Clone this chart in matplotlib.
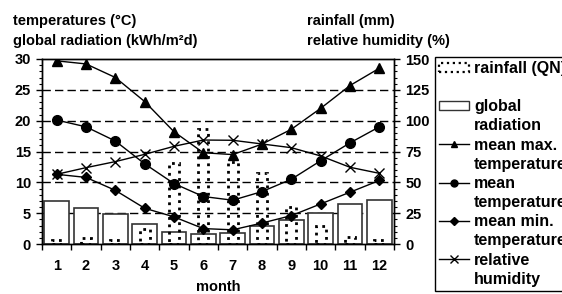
import matplotlib.pyplot as plt
from matplotlib.lines import Line2D
from matplotlib.patches import Rectangle

plt.rcParams['font.family'] = 'Liberation Sans'
plt.rcParams['font.weight'] = 'bold'
plt.rcParams['axes.labelweight'] = 'bold'
plt.rcParams['font.size'] = 10.5

months = [1, 2, 3, 4, 5, 6, 7, 8, 9, 10, 11, 12]
rainfall = [3.2, 4.6, 3.2, 12.2, 65.4, 93.0, 66.8, 57.3, 30.3, 14.9, 5.9, 3.2]
radiation = [6.9, 5.8, 4.8, 3.2, 1.95, 1.6, 1.85, 2.9, 3.85, 5.0, 6.5, 7.1]
tmax = [29.7, 29.2, 27.0, 23.1, 18.2, 14.8, 14.5, 16.2, 18.6, 22.0, 25.7, 28.5]
tmean = [20.1, 19.0, 16.7, 13.0, 9.8, 7.7, 7.1, 8.5, 10.5, 13.5, 16.4, 19.0]
tmin = [11.3, 10.8, 8.7, 5.8, 4.4, 2.5, 2.3, 3.4, 4.6, 6.5, 8.4, 10.3]
humidity = [56.5, 61.9, 66.8, 72.7, 79.2, 84.3, 84.1, 81.1, 78.1, 71.4, 62.2, 57.3]

fig = plt.figure(figsize=(5.62, 2.94), dpi=100)
ax = fig.add_axes([42 / 562, 1 - 244 / 294, 352 / 562, 185 / 294])
ax2 = ax.twinx()

# primary axis: radiation bars + temperatures
ax.set_axisbelow(True)
ax.bar(months, radiation, width=0.83, color='white', edgecolor='#333333', linewidth=1.2, zorder=2)
ax.plot(months, tmax, color='black', lw=1, marker='^', ms=6.5, zorder=4)
ax.plot(months, tmean, color='black', lw=1, marker='o', ms=7, zorder=4)
ax.plot(months, tmin, color='black', lw=1, marker='D', ms=5, zorder=4)
ax.set_ylim(0, 30)
ax.set_xlim(0.5, 12.5)
ax.set_yticks(range(0, 31, 5))
ax.set_yticks(range(0, 31), minor=True)
for v in range(5, 30, 5):
    ax.axhline(v, color='black', lw=1, ls=(0, (6, 3)), zorder=1)

ax.set_xticks(months)
ax.set_xticks([m + 0.5 for m in range(0, 13)], minor=True)
ax.tick_params(axis='x', which='major', length=0, pad=11)
ax.tick_params(axis='x', which='minor', length=4, width=1, direction='out')
ax.tick_params(axis='y', which='major', length=4, width=1, direction='out', pad=4)
ax.tick_params(axis='y', which='minor', length=2, width=0.8, direction='out')
ax.set_xlabel('month', labelpad=5)

# secondary axis: rainfall + humidity
ax2.bar(months, rainfall, width=0.33, fill=False, edgecolor='black', linewidth=2, linestyle=':', zorder=3)
ax2.plot(months, humidity, color='black', lw=1, marker='x', ms=7, mew=1, zorder=4)
ax2.set_ylim(0, 150)
ax2.set_yticks(range(0, 151, 25))
ax2.set_yticks(range(0, 151, 5), minor=True)
ax2.tick_params(axis='y', which='major', length=4, width=1, direction='out', pad=4)
ax2.tick_params(axis='y', which='minor', length=2, width=0.8, direction='out')

for a in (ax, ax2):
    for s in a.spines.values():
        s.set_linewidth(1)

fig.text(13 / 562, 1 - 21 / 294, 'temperatures (°C)', ha='left', va='center')
fig.text(13 / 562, 1 - 41 / 294, 'global radiation (kWh/m²d)', ha='left', va='center')
fig.text(307 / 562, 1 - 21 / 294, 'rainfall (mm)', ha='left', va='center')
fig.text(307 / 562, 1 - 41 / 294, 'relative humidity (%)', ha='left', va='center')

blank = Rectangle((0, 0), 1, 1, visible=False)
rain_h = Rectangle((0, 0), 1, 1, fill=False, edgecolor='black', linestyle=':', linewidth=1.6)
rad_h = Rectangle((0, 0), 1, 1, facecolor='white', edgecolor='#333333', linewidth=1)
max_h = Line2D([], [], color='black', lw=1, marker='^', ms=5)
mean_h = Line2D([], [], color='black', lw=1, marker='o', ms=5)
min_h = Line2D([], [], color='black', lw=1, marker='D', ms=4)
hum_h = Line2D([], [], color='black', lw=1, marker='x', ms=6)
handles = [rain_h, blank, rad_h, blank, max_h, blank, mean_h, blank, min_h, blank, hum_h, blank]
labels = ['rainfall (QN)', ' ', 'global', 'radiation', 'mean max.', 'temperature',
          'mean', 'temperature', 'mean min.', 'temperature', 'relative', 'humidity']
leg = fig.legend(handles, labels, loc='upper left', bbox_to_anchor=(435 / 562, 1 - 57 / 294),
                 frameon=True, fancybox=False, edgecolor='black', framealpha=1,
                 fontsize=11.5, handlelength=1.9, handleheight=0.55, handletextpad=0.3,
                 labelspacing=0.26, borderpad=0.25, borderaxespad=0)
leg.get_frame().set_linewidth(1)

fig.savefig('out.png', dpi=100)
